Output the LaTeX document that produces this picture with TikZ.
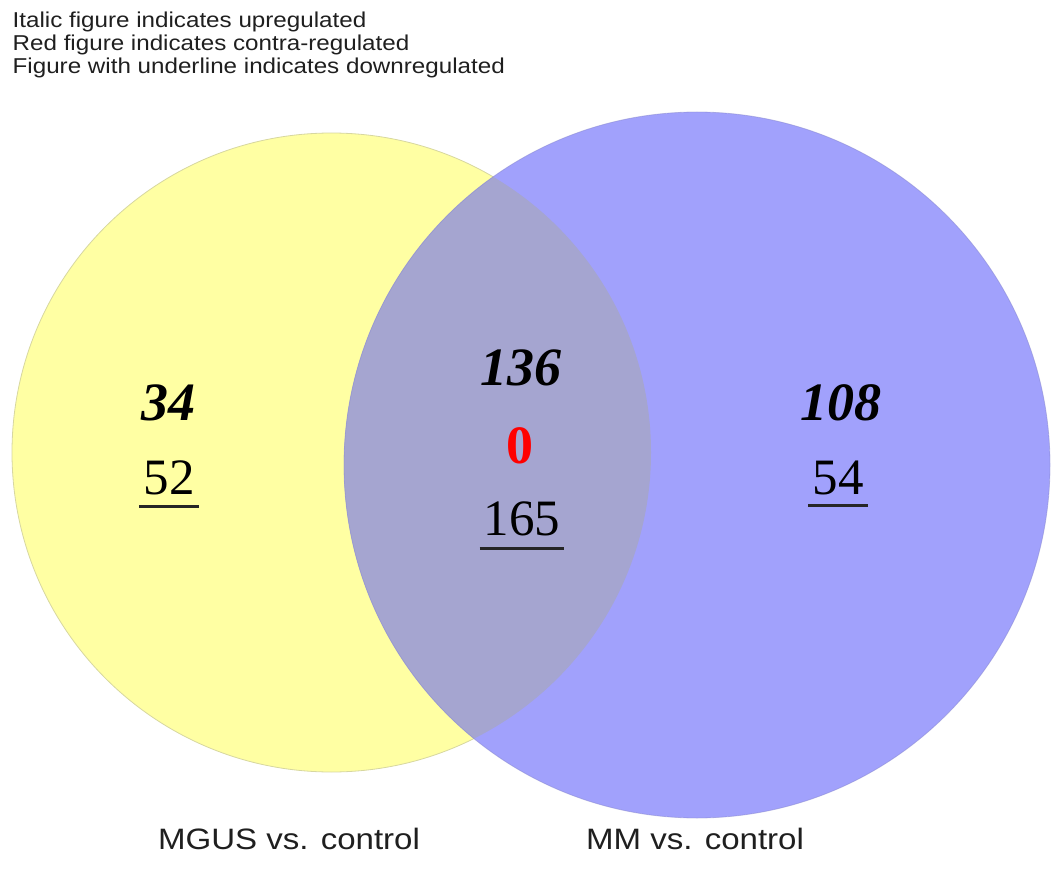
\documentclass[tikz,border=0pt]{standalone}
\usepackage{graphicx}
\usepackage{fontspec}
\setmainfont{Liberation Serif}
\newfontfamily\arialfont{Liberation Sans}
\usetikzlibrary{calc}
\definecolor{vyellow}{RGB}{255,255,163}
\definecolor{vblue}{RGB}{161,161,252}
\definecolor{voverlap}{RGB}{165,165,208}
\definecolor{vyedge}{RGB}{215,215,160}
\definecolor{vbedge}{RGB}{135,135,205}
\begin{document}
\begin{tikzpicture}[x=1pt,y=-1pt,
  legend/.style={anchor=base west, inner sep=0pt, text=black!88, font=\arialfont\fontsize{21.5}{23}\selectfont},
  setlabel/.style={anchor=base, inner sep=0pt, text=black!88, font=\arialfont\fontsize{29.5}{33}\selectfont},
  upnum/.style={inner sep=0pt, font=\bfseries\itshape\fontsize{54}{54}\selectfont},
  contranum/.style={inner sep=0pt, text=red, font=\bfseries\fontsize{54}{54}\selectfont},
  downnum/.style={inner sep=0pt, font=\fontsize{51}{51}\selectfont},
  uline/.style={line width=2.6pt, black!85},
  yedge/.style={draw=vyedge, line width=0.8pt},
  bedge/.style={draw=vbedge, line width=0.8pt}]
\useasboundingbox (0,0) rectangle (1063,869);
\coordinate (yc) at (331.5,452.5);
\coordinate (bc) at (697,465);
% circles
\fill[vyellow] (yc) circle[radius=319.5];
\draw[yedge] (yc) circle[radius=319.5];
\fill[vblue] (bc) circle[radius=353];
\begin{scope}
  \clip (yc) circle[radius=319.5];
  \fill[voverlap] (bc) circle[radius=353];
\end{scope}
\draw[bedge, opacity=0.5] (bc) circle[radius=353];
% legend
\node[legend] (l1) at (12.5,27.3) {\scalebox{1.125}[1]{Italic figure indicates upregulated}};
\node[legend] (l2) at (12.5,50.7) {\scalebox{1.125}[1]{Red figure indicates contra-regulated}};
\node[legend] (l3) at (12.5,74) {\scalebox{1.125}[1]{Figure with underline indicates downregulated}};
% numbers
\node[upnum] (n34) at (168,403) {34};
\node[downnum] (n52) at (169,478) {52};
\node[upnum] (n136) at (521,368) {136};
\node[contranum] (n0) at (520,446) {0};
\node[downnum] (n165) at (522,519) {165};
\node[upnum] (n108) at (841,403) {108};
\node[downnum] (n54) at (838,478) {54};
\draw[uline] ($(n52.base west)+(-4,12)$) -- ($(n52.base east)+(4,12)$);
\draw[uline] ($(n165.base west)+(-4,13)$) -- ($(n165.base east)+(4,13)$);
\draw[uline] ($(n54.base west)+(-4,11)$) -- ($(n54.base east)+(4,11)$);
% set labels
\node[setlabel] (lmgus) at (289,849) {\scalebox{1.12}[1]{MGUS vs. control}};
\node[setlabel] (lmm) at (695,849) {\scalebox{1.12}[1]{MM vs. control}};
\end{tikzpicture}
\end{document}
